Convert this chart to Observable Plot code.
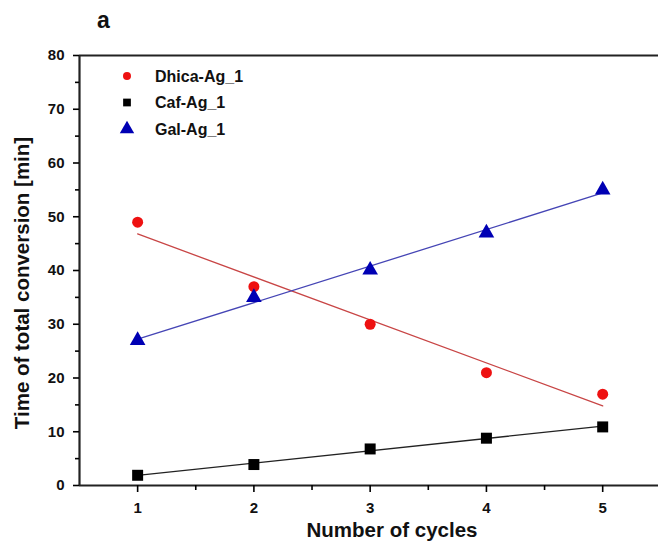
<!DOCTYPE html>
<html><head><meta charset="utf-8">
<script src="https://cdn.jsdelivr.net/npm/d3@7"></script>
<script src="https://cdn.jsdelivr.net/npm/@observablehq/plot@0.6"></script>
<style>
body{margin:0;background:#fff;font-family:"Liberation Sans",Arial,sans-serif;}
#wrap{position:relative;width:658px;height:545px;overflow:hidden;}
#wrap svg{position:absolute;left:0;top:0;}
.lbl{position:absolute;font-weight:bold;color:#111;white-space:nowrap;}
</style></head><body>
<div id="wrap"></div>
<script>
// ---- data ----
const cycles = [1, 2, 3, 4, 5];
const dhica = [49, 37, 30, 21, 17];
const caf = [1.9, 3.9, 6.8, 8.8, 10.9];
const gal = [27, 35, 40.1, 47, 55];
const seriesNames = ["Dhica-Ag_1", "Caf-Ag_1", "Gal-Ag_1"];
const seriesSymbols = ["circle", "square", "triangle"];
const seriesFill = ["#ee1111", "#000000", "#0000b4"];
const seriesLine = ["#c84545", "#222222", "#4545b5"];
const yTicks = [0, 10, 20, 30, 40, 50, 60, 70, 80];
const yMinor = [5, 15, 25, 35, 45, 55, 65, 75];
const xTicks = [1, 2, 3, 4, 5];
const xMinor = [1.5, 2.5, 3.5, 4.5];
const xLabel = "Number of cycles";
const yLabel = "Time of total conversion [min]";
const panelLabel = "a";

const values = [dhica, caf, gal];
const rows = [];
values.forEach((vals, i) => vals.forEach((v, j) => rows.push({cycle: cycles[j], value: v, series: seriesNames[i]})));

const font = {fontWeight: "bold", fontSize: 15};
const marks = [
  Plot.ruleY([80], {stroke: "#222", strokeWidth: 2.2}),
  Plot.ruleY([0], {stroke: "#222", strokeWidth: 2.2}),
  Plot.ruleX([0.5], {stroke: "#222", strokeWidth: 2.2}),
  Plot.axisY(yTicks, {tickSize: 6, tickPadding: 9, strokeWidth: 1.6, label: null, tickFormat: d3.format("d"), ...font, fill: "#111"}),
  Plot.axisY(yMinor, {tickSize: 4, tickFormat: () => "", strokeWidth: 1.6, label: null}),
  Plot.axisX(xTicks, {tickSize: 7, tickPadding: 10, strokeWidth: 1.6, label: null, tickFormat: d3.format("d"), ...font, fill: "#111"}),
  Plot.axisX(xMinor, {tickSize: 5, tickFormat: () => "", strokeWidth: 1.6, label: null})
];
seriesNames.forEach((name, i) => {
  const d = rows.filter(r => r.series === name);
  marks.push(Plot.linearRegressionY(d, {x: "cycle", y: "value", stroke: seriesLine[i], strokeWidth: 1.3, ci: 0}));
});
seriesNames.forEach((name, i) => {
  const d = rows.filter(r => r.series === name);
  marks.push(Plot.dot(d, {x: "cycle", y: "value", symbol: () => seriesSymbols[i], fill: seriesFill[i], r: [5.5, 6.2, 5.8][i]}));
});

const chart = Plot.plot({
  width: 658, height: 545,
  marginLeft: 79, marginRight: 0, marginTop: 55, marginBottom: 60,
  style: {fontFamily: "'Liberation Sans', Arial, sans-serif", background: "#fff", fontSize: "15px"},
  x: {domain: [0.5, 5.48], axis: null},
  y: {domain: [0, 80], axis: null},
  marks
});
const wrap = document.getElementById("wrap");
wrap.appendChild(chart);
d3.select(chart).selectAll('g[aria-label$="tick label"]').attr("font-size", 15).attr("font-weight", "bold");

// legend inside plot area
const svg = d3.select(chart);
const lg = svg.append("g").attr("text-anchor", "start");
seriesNames.forEach((name, i) => {
  const yy = 76 + i * 26.5;
  lg.append("path").attr("d", d3.symbol(i === 0 ? d3.symbolCircle : i === 1 ? d3.symbolSquare : d3.symbolTriangle, [50, 60, 90][i])())
    .attr("transform", `translate(127,${yy})`).attr("fill", seriesFill[i]);
  lg.append("text").attr("x", 155).attr("y", yy + 5.5).text(name).attr("text-anchor", "start")
    .attr("font-family", "'Liberation Sans', Arial, sans-serif").attr("font-weight", "bold").attr("font-size", 16).attr("fill", "#111");
});

// titles
const t1 = document.createElement("div");
t1.className = "lbl"; t1.textContent = panelLabel;
t1.style.cssText = "left:97px;top:7px;font-size:23px;";
wrap.appendChild(t1);
const tx = document.createElement("div");
tx.className = "lbl"; tx.textContent = xLabel;
tx.style.cssText = "left:392px;top:518px;font-size:20.5px;transform:translateX(-50%);";
wrap.appendChild(tx);
const ty = document.createElement("div");
ty.className = "lbl"; ty.textContent = yLabel;
ty.style.cssText = "left:22px;top:283px;font-size:20.5px;transform:translate(-50%,-50%) rotate(-90deg);";
wrap.appendChild(ty);
</script>
</body></html>
